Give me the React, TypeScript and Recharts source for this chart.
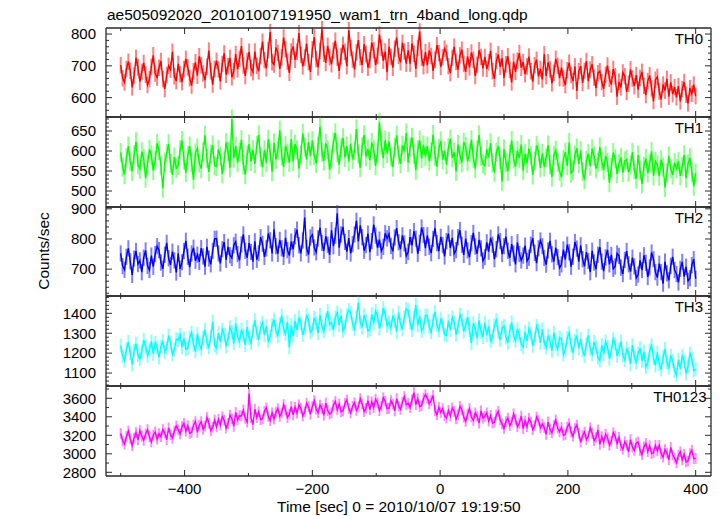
import React from 'react';
import { LineChart, Line, XAxis, YAxis, ErrorBar } from 'recharts';

const FONT = '"Liberation Sans", Arial, Helvetica, sans-serif';
const TITLE = 'ae505092020_20101007191950_wam1_trn_4band_long.qdp';
const Y_LABEL = 'Counts/sec';
const X_LABEL = 'Time [sec] 0 = 2010/10/07 19:19:50';

// time grid of the samples (sec)
const T_START = -500;
const T_STEP = 3;

const th0 = [
  702, 661, 648, 690, 713, 684, 632, 669, 725, 695,
  650, 681, 709, 672, 640, 658, 697, 733, 676, 663,
  694, 715, 658, 627, 671, 700, 688, 744, 667, 652,
  706, 673, 649, 690, 722, 695, 661, 638, 683, 711,
  669, 730, 702, 676, 655, 697, 748, 683, 641, 690,
  716, 688, 651, 706, 739, 672, 699, 725, 664, 683,
  737, 689, 722, 762, 701, 668, 715, 744, 693, 680,
  745, 700, 683, 731, 776, 718, 692, 749, 806, 711,
  704, 758, 741, 690, 727, 789, 752, 713, 678, 745,
  761, 719, 744, 803, 735, 698, 726, 770, 712, 681,
  752, 790, 721, 695, 747, 815, 738, 709, 763, 727,
  705, 748, 779, 726, 684, 731, 766, 744, 699, 812,
  756, 720, 689, 742, 781, 727, 703, 768, 737, 694,
  718, 773, 749, 702, 731, 798, 757, 716, 745, 680,
  760, 728, 694, 754, 789, 731, 711, 772, 745, 707,
  749, 707, 771, 738, 690, 756, 808, 725, 699, 743,
  702, 748, 731, 684, 719, 765, 740, 697, 727, 754,
  741, 699, 677, 725, 760, 712, 688, 733, 751, 706,
  681, 730, 695, 742, 719, 668, 703, 749, 728, 692,
  728, 690, 711, 747, 683, 659, 715, 736, 697, 724,
  662, 705, 730, 687, 648, 713, 681, 716, 740, 694,
  712, 674, 698, 729, 683, 650, 702, 719, 667, 690,
  657, 736, 668, 711, 689, 645, 678, 722, 700, 661,
  694, 660, 639, 686, 710, 671, 652, 698, 621, 683,
  699, 646, 684, 715, 652, 688, 705, 663, 630, 677,
  683, 649, 628, 672, 701, 659, 641, 690, 667, 603,
  650, 632, 679, 667, 618, 644, 689, 660, 636, 671,
  625, 662, 681, 637, 608, 652, 670, 629, 589, 656,
  665, 619, 594, 641, 622, 659, 603, 648, 611, 633,
  601, 636, 588, 627, 649, 609, 582, 630, 612, 641,
  605,
];

const th1 = [
  596, 560, 541, 583, 612, 574, 549, 590, 623, 566,
  555, 598, 581, 532, 567, 604, 590, 551, 576, 619,
  601, 563, 507, 572, 594, 618, 569, 540, 585, 557,
  564, 603, 626, 578, 546, 589, 612, 571, 528, 595,
  607, 570, 556, 598, 639, 581, 548, 592, 615, 563,
  561, 604, 587, 543, 575, 621, 599, 558, 680, 582,
  612, 571, 597, 628, 566, 541, 590, 617, 574, 603,
  568, 614, 640, 585, 559, 603, 571, 629, 596, 548,
  620, 579, 601, 652, 588, 560, 613, 595, 571, 630,
  574, 617, 603, 556, 591, 644, 610, 579, 622, 587,
  626, 588, 569, 612, 661, 597, 575, 619, 604, 553,
  581, 623, 645, 596, 566, 608, 633, 584, 612, 574,
  618, 579, 601, 655, 592, 558, 611, 640, 586, 605,
  577, 621, 604, 563, 596, 672, 615, 582, 627, 594,
  624, 585, 560, 609, 639, 590, 568, 614, 599, 645,
  571, 610, 634, 592, 552, 603, 627, 581, 615, 586,
  612, 575, 598, 641, 587, 561, 606, 625, 578, 600,
  566, 609, 630, 583, 597, 549, 616, 590, 571, 622,
  611, 574, 595, 628, 582, 556, 603, 640, 587, 568,
  563, 604, 584, 620, 570, 546, 597, 612, 579, 524,
  605, 571, 549, 592, 626, 580, 561, 601, 582, 616,
  551, 593, 569, 606, 588, 540, 575, 614, 597, 558,
  594, 560, 583, 615, 566, 535, 589, 602, 571, 550,
  534, 579, 597, 563, 621, 545, 551, 590, 607, 568,
  601, 548, 528, 576, 593, 562, 605, 587, 556, 572,
  610, 574, 552, 588, 571, 521, 559, 596, 580, 543,
  568, 584, 546, 575, 579, 547, 565, 597, 553, 530,
  590, 551, 518, 562, 581, 545, 569, 599, 538, 574,
  566, 537, 578, 560, 509, 545, 587, 556, 540, 571,
  556, 574, 538, 561, 590, 532, 568, 583, 547, 512,
  545,
];

const th2 = [
  752, 710, 698, 741, 769, 726, 681, 735, 760, 717,
  729, 690, 738, 762, 711, 697, 745, 708, 750, 776,
  763, 722, 701, 748, 787, 736, 714, 758, 729, 689,
  752, 701, 723, 760, 794, 741, 707, 752, 771, 728,
  748, 724, 770, 742, 708, 774, 735, 716, 761, 800,
  801, 752, 719, 766, 790, 731, 774, 746, 737, 779,
  791, 750, 729, 782, 815, 761, 738, 786, 757, 725,
  792, 731, 753, 806, 784, 741, 769, 818, 796, 752,
  832, 776, 751, 797, 769, 741, 804, 763, 745, 791,
  766, 809, 831, 779, 752, 795, 871, 770, 748, 805,
  814, 772, 756, 802, 838, 787, 761, 809, 781, 747,
  829, 776, 811, 885, 771, 815, 840, 790, 758, 803,
  752, 783, 815, 860, 792, 845, 806, 761, 780, 818,
  756, 793, 848, 811, 771, 798, 760, 774, 819, 802,
  816, 777, 759, 805, 836, 789, 766, 812, 785, 744,
  757, 806, 779, 826, 801, 751, 787, 838, 813, 770,
  812, 774, 753, 800, 836, 786, 760, 807, 780, 742,
  793, 818, 770, 804, 751, 763, 806, 829, 781, 747,
  801, 762, 740, 786, 820, 775, 751, 797, 769, 728,
  740, 789, 758, 804, 781, 733, 766, 815, 793, 750,
  776, 808, 761, 737, 783, 752, 716, 789, 750, 729,
  745, 778, 727, 738, 781, 803, 754, 720, 769, 795,
  776, 737, 715, 762, 794, 749, 725, 771, 740, 704,
  716, 765, 732, 781, 756, 708, 741, 790, 768, 725,
  779, 733, 709, 756, 727, 690, 761, 722, 700, 748,
  773, 725, 693, 739, 764, 716, 747, 701, 709, 752,
  744, 705, 684, 731, 760, 716, 692, 738, 709, 671,
  682, 729, 697, 746, 721, 674, 706, 755, 733, 690,
  672, 718, 690, 652, 725, 686, 663, 711, 741, 697,
  684, 656, 701, 724, 675, 708, 661, 670, 713, 733,
  668,
];

const th3 = [
  1238, 1185, 1162, 1219, 1256, 1201, 1143, 1213, 1247, 1190,
  1171, 1209, 1266, 1235, 1187, 1214, 1259, 1196, 1251, 1228,
  1179, 1232, 1261, 1205, 1226, 1288, 1249, 1193, 1218, 1270,
  1266, 1291, 1230, 1274, 1219, 1224, 1279, 1303, 1241, 1208,
  1297, 1245, 1221, 1276, 1318, 1254, 1229, 1283, 1359, 1240,
  1226, 1301, 1255, 1318, 1292, 1234, 1268, 1330, 1305, 1249,
  1348, 1285, 1260, 1318, 1290, 1241, 1331, 1276, 1251, 1309,
  1366, 1302, 1267, 1327, 1353, 1290, 1336, 1261, 1283, 1340,
  1368, 1313, 1286, 1346, 1388, 1321, 1297, 1356, 1229, 1339,
  1287, 1361, 1316, 1379, 1351, 1291, 1328, 1391, 1364, 1306,
  1318, 1378, 1350, 1301, 1392, 1335, 1309, 1368, 1411, 1344,
  1354, 1317, 1379, 1404, 1342, 1388, 1313, 1331, 1390, 1417,
  1403, 1346, 1320, 1380, 1454, 1356, 1329, 1390, 1361, 1312,
  1320, 1395, 1349, 1412, 1386, 1324, 1361, 1426, 1398, 1338,
  1354, 1328, 1389, 1360, 1308, 1404, 1346, 1319, 1379, 1422,
  1415, 1353, 1316, 1376, 1442, 1339, 1386, 1311, 1329, 1389,
  1389, 1331, 1305, 1365, 1407, 1340, 1314, 1374, 1345, 1293,
  1289, 1362, 1316, 1379, 1354, 1293, 1331, 1393, 1367, 1308,
  1341, 1382, 1316, 1250, 1350, 1322, 1275, 1365, 1307, 1281,
  1352, 1289, 1335, 1262, 1281, 1340, 1366, 1304, 1267, 1327,
  1336, 1279, 1252, 1312, 1354, 1287, 1262, 1321, 1293, 1245,
  1231, 1306, 1260, 1323, 1298, 1237, 1274, 1337, 1311, 1251,
  1320, 1253, 1228, 1288, 1259, 1212, 1303, 1245, 1219, 1279,
  1270, 1193, 1215, 1276, 1302, 1239, 1201, 1262, 1288, 1224,
  1271, 1213, 1186, 1247, 1289, 1221, 1195, 1256, 1228, 1177,
  1163, 1241, 1195, 1258, 1232, 1172, 1209, 1272, 1246, 1186,
  1216, 1258, 1190, 1164, 1225, 1197, 1146, 1240, 1182, 1155,
  1199, 1225, 1161, 1207, 1130, 1152, 1213, 1239, 1176, 1138,
  1204, 1145, 1118, 1179, 1221, 1153, 1127, 1188, 1160, 1110,
  1090, 1166, 1121, 1184, 1158, 1097, 1136, 1198, 1173, 1112,
  1120,
];

const th0123 = [
  3221, 3140, 3105, 3187, 3246, 3163, 3089, 3172, 3230, 3151,
  3251, 3190, 3146, 3214, 3262, 3183, 3127, 3201, 3236, 3158,
  3219, 3185, 3263, 3226, 3152, 3280, 3205, 3168, 3246, 3301,
  3259, 3214, 3294, 3330, 3244, 3303, 3221, 3231, 3312, 3348,
  3232, 3309, 3347, 3264, 3301, 3392, 3330, 3251, 3287, 3364,
  3290, 3374, 3311, 3401, 3362, 3279, 3326, 3418, 3380, 3296,
  3447, 3366, 3412, 3409, 3473, 3382, 3343, 3651, 3388, 3315,
  3482, 3391, 3454, 3368, 3378, 3460, 3498, 3405, 3359, 3443,
  3375, 3449, 3488, 3404, 3442, 3532, 3471, 3392, 3428, 3510,
  3420, 3503, 3440, 3530, 3492, 3409, 3455, 3547, 3509, 3428,
  3511, 3575, 3482, 3444, 3527, 3489, 3416, 3549, 3467, 3430,
  3443, 3527, 3566, 3475, 3538, 3455, 3463, 3544, 3582, 3489,
  3441, 3514, 3553, 3469, 3507, 3597, 3535, 3456, 3492, 3574,
  3478, 3562, 3499, 3590, 3551, 3467, 3513, 3606, 3568, 3487,
  3492, 3575, 3537, 3464, 3597, 3515, 3479, 3558, 3619, 3530,
  3546, 3500, 3584, 3662, 3532, 3595, 3511, 3520, 3601, 3639,
  3602, 3541, 3575, 3630, 3468, 3421, 3502, 3447, 3489, 3410,
  3386, 3469, 3408, 3497, 3459, 3377, 3421, 3512, 3476, 3398,
  3349, 3428, 3489, 3398, 3361, 3443, 3405, 3332, 3465, 3385,
  3405, 3443, 3353, 3415, 3332, 3341, 3421, 3458, 3366, 3322,
  3275, 3348, 3386, 3304, 3341, 3432, 3371, 3292, 3327, 3409,
  3272, 3356, 3293, 3383, 3345, 3262, 3306, 3398, 3361, 3281,
  3321, 3283, 3210, 3344, 3262, 3227, 3306, 3367, 3276, 3239,
  3284, 3200, 3209, 3289, 3326, 3234, 3190, 3273, 3311, 3221,
  3125, 3198, 3236, 3154, 3191, 3282, 3221, 3142, 3177, 3259,
  3102, 3186, 3123, 3213, 3175, 3092, 3136, 3228, 3191, 3111,
  3177, 3086, 3049, 3131, 3093, 3020, 3154, 3072, 3037, 3116,
  3128, 3036, 2992, 3075, 3113, 3023, 3086, 3002, 3011, 3091,
  3031, 3092, 3001, 2964, 3046, 3008, 2935, 3069, 2987, 2952,
  2902, 2985, 3023, 2933, 2996, 2912, 2921, 3001, 3038, 2946,
  2950,
];

const SERIES = [th0, th1, th2, th3, th0123];
const BAND_NAMES = ['TH0', 'TH1', 'TH2', 'TH3', 'TH0123'];
const BAND_ERR = [26, 24, 27, 35, 58];

const X_DOMAIN: [number, number] = [-523, 424];
const X_TICKS = [-500, -400, -300, -200, -100, 0, 100, 200, 300, 400];
const X_MAJOR = [-400, -200, 0, 200, 400];

const Y_DOMAINS: [number, number][] = [
  [539, 819],
  [460, 685],
  [611, 906],
  [1035, 1487],
  [2760, 3733],
];
const Y_MAJOR = [
  [600, 700, 800],
  [500, 550, 600, 650],
  [700, 800, 900],
  [1100, 1200, 1300, 1400],
  [2800, 3000, 3200, 3400, 3600],
];
const Y_MINOR_STEP = [20, 10, 20, 20, 100];

const LINE_COLORS = ['#ff0000', '#00ff00', '#0000ff', '#00ffff', '#ff00ff'];
const ERR_COLORS = ['#ff8080', '#8cff8c', '#8080ff', '#8cffff', '#ff8cff'];

// layout
const W = 721;
const H = 516;
const PLOT_LEFT = 106;
const PLOT_RIGHT = 711;
const PANEL_TOPS = [28, 117, 207, 296, 386];
const PANEL_H = [89, 90, 89, 90, 90];
const PAD = 12;
const LABEL_END_X = [703, 703, 703, 703, 706.5];
const AXIS = '#2a2a2a';
const AXIS_LINE = { stroke: AXIS, strokeWidth: 1.3 };
const MAJOR_LEN = 6;
const MINOR_LEN = 3;

const fmtNum = (v: number) => String(v).replace('-', '\u2212');

function yTicks(i: number): number[] {
  const [lo, hi] = Y_DOMAINS[i];
  const step = Y_MINOR_STEP[i];
  const out: number[] = [];
  for (let v = Math.ceil(lo / step) * step; v <= hi; v += step) out.push(v);
  return out;
}

function LeftTick(props: any) {
  const { x, y, payload, majors } = props;
  const major = majors.includes(payload.value);
  return (
    <g>
      <line x1={x} x2={x + (major ? MAJOR_LEN : MINOR_LEN)} y1={y} y2={y} stroke={AXIS} strokeWidth={1} />
      {major && (
        <text x={x - 10} y={y} dy="0.355em" textAnchor="end" fontSize={15} fontFamily={FONT} fill="#000">
          {fmtNum(payload.value)}
        </text>
      )}
    </g>
  );
}

function RightTick(props: any) {
  const { x, y, payload, majors } = props;
  const major = majors.includes(payload.value);
  return (
    <line x1={x} x2={x - (major ? MAJOR_LEN : MINOR_LEN)} y1={y} y2={y} stroke={AXIS} strokeWidth={1} />
  );
}

function TopTick(props: any) {
  const { x, y, payload } = props;
  const major = X_MAJOR.includes(payload.value);
  return <line x1={x} x2={x} y1={y} y2={y + (major ? MAJOR_LEN : MINOR_LEN)} stroke={AXIS} strokeWidth={1} />;
}

function BottomTick(props: any) {
  const { x, y, payload, showLabel } = props;
  const major = X_MAJOR.includes(payload.value);
  return (
    <g>
      <line x1={x} x2={x} y1={y} y2={y - (major ? MAJOR_LEN : MINOR_LEN)} stroke={AXIS} strokeWidth={1} />
      {showLabel && major && (
        <text x={x} y={y + 18} textAnchor="middle" fontSize={15} fontFamily={FONT} fill="#000">
          {fmtNum(payload.value)}
        </text>
      )}
    </g>
  );
}

function Panel({ i }: { i: number }) {
  const values = SERIES[i];
  const data = values.map((v, k) => ({ t: T_START + k * T_STEP, v, e: BAND_ERR[i] }));
  const isLast = i === SERIES.length - 1;
  const top = PANEL_TOPS[i];
  const h = PANEL_H[i];
  const bottomH = isLast ? 31 : 1;
  const bottomPad = isLast ? 0 : PAD;
  const chartH = PAD + 1 + h + bottomH + bottomPad;
  const yt = yTicks(i);
  const majors = Y_MAJOR[i];
  return (
    <div style={{ position: 'absolute', left: 0, top: top - 1 - PAD, width: W, height: chartH }}>
      <LineChart
        width={W}
        height={chartH}
        data={data}
        margin={{ top: PAD, right: W - PLOT_RIGHT - 1, bottom: bottomPad, left: 0 }}
      >
        <XAxis
          xAxisId="b"
          dataKey="t"
          type="number"
          orientation="bottom"
          domain={X_DOMAIN}
          ticks={X_TICKS}
          allowDataOverflow
          interval={0}
          height={bottomH}
          tickSize={0}
          tickMargin={0}
          tickLine={false}
          axisLine={AXIS_LINE}
          tick={(p: any) => <BottomTick {...p} showLabel={isLast} />}
        />
        <XAxis
          xAxisId="t"
          dataKey="t"
          type="number"
          orientation="top"
          domain={X_DOMAIN}
          ticks={X_TICKS}
          allowDataOverflow
          interval={0}
          height={1}
          tickSize={0}
          tickMargin={0}
          tickLine={false}
          axisLine={AXIS_LINE}
          tick={(p: any) => <TopTick {...p} />}
        />
        <YAxis
          yAxisId="l"
          type="number"
          orientation="left"
          domain={Y_DOMAINS[i]}
          ticks={yt}
          allowDataOverflow
          interval={0}
          width={PLOT_LEFT}
          tickSize={0}
          tickMargin={0}
          tickLine={false}
          axisLine={AXIS_LINE}
          tick={(p: any) => <LeftTick {...p} majors={majors} />}
        />
        <YAxis
          yAxisId="r"
          type="number"
          orientation="right"
          domain={Y_DOMAINS[i]}
          ticks={yt}
          allowDataOverflow
          interval={0}
          width={1}
          tickSize={0}
          tickMargin={0}
          tickLine={false}
          axisLine={AXIS_LINE}
          tick={(p: any) => <RightTick {...p} majors={majors} />}
        />
        {/* error bars first, so the data line sits on top of them */}
        <Line
          xAxisId="b"
          yAxisId="l"
          dataKey="v"
          type="linear"
          stroke="none"
          dot={false}
          activeDot={false}
          isAnimationActive={false}
        >
          <ErrorBar
            dataKey="e"
            width={0}
            stroke={ERR_COLORS[i]}
            strokeWidth={2}
            direction="y"
            isAnimationActive={false}
          />
        </Line>
        <Line
          xAxisId="b"
          yAxisId="l"
          dataKey="v"
          type="linear"
          stroke={LINE_COLORS[i]}
          strokeWidth={1.4}
          dot={false}
          activeDot={false}
          isAnimationActive={false}
        />
      </LineChart>
    </div>
  );
}

export default function App() {
  return (
    <div style={{ position: 'absolute', left: 0, top: 0, width: W, height: H, background: '#fff', overflow: 'hidden' }}>
      {SERIES.map((_, i) => (
        <Panel key={i} i={i} />
      ))}
      <svg
        width={W}
        height={H}
        style={{ position: 'absolute', left: 0, top: 0, pointerEvents: 'none' }}
        fontFamily={FONT}
      >
        <text x={107} y={19.5} fontSize={15.5} fill="#000">
          {TITLE}
        </text>
        <text transform="translate(49,251) rotate(-90)" textAnchor="middle" fontSize={15.5} fill="#000">
          {Y_LABEL}
        </text>
        <text x={277} y={512} fontSize={15.5} fill="#000">
          {X_LABEL}
        </text>
        {BAND_NAMES.map((name, i) => (
          <text key={name} x={LABEL_END_X[i]} y={PANEL_TOPS[i] + 15.5} textAnchor="end" fontSize={15} fill="#000">
            {name}
          </text>
        ))}
      </svg>
    </div>
  );
}
